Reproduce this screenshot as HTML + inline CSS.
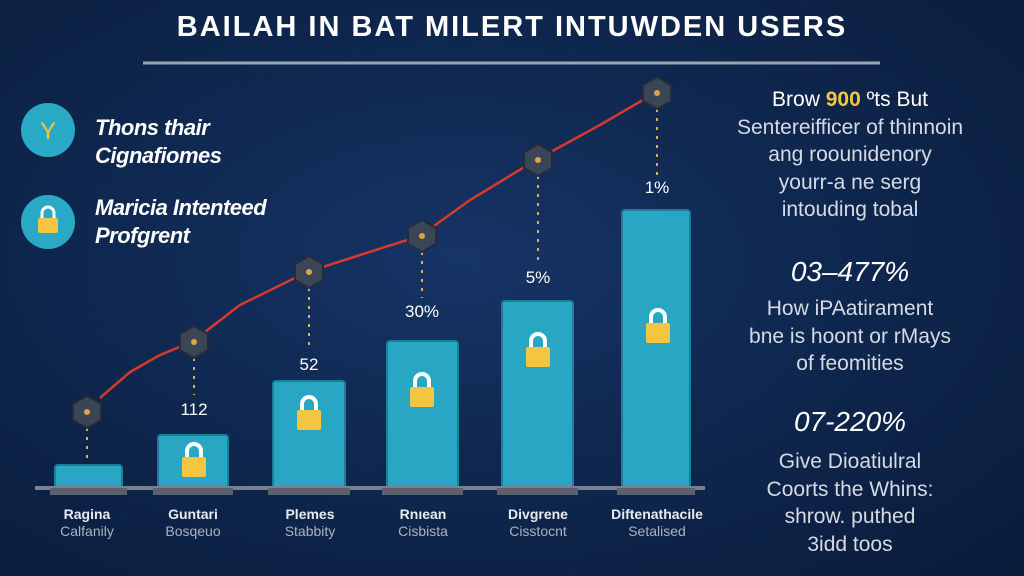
<!DOCTYPE html>
<html><head><meta charset="utf-8"><style>
html,body{margin:0;padding:0;}
body{width:1024px;height:576px;overflow:hidden;position:relative;font-family:"Liberation Sans",sans-serif;
background:radial-gradient(ellipse at 45% 45%,#163466 0%,#0f2850 45%,#0a1b3a 100%);}
.t{position:absolute;white-space:nowrap;}
.title{left:0;width:1024px;text-align:center;top:11px;font-size:29px;font-weight:bold;color:#fff;letter-spacing:2px;}
.leg{left:95px;font-size:22px;font-weight:bold;font-style:italic;color:#fff;line-height:28px;letter-spacing:-0.5px;}
.r{left:690px;width:320px;text-align:center;color:#d5dbe4;font-size:21px;line-height:27.5px;}
.big{left:690px;width:320px;text-align:center;color:#fff;font-size:28px;font-style:italic;}
.c1{font-size:14px;font-weight:bold;color:#e8ecf2;text-align:center;width:120px;}
.c2{font-size:14px;color:#aab3c2;text-align:center;width:120px;}
.v{font-size:17px;color:#fff;text-align:center;width:60px;}
</style></head><body>
<div class="t title">BAILAH IN BAT MILERT INTUWDEN USERS</div>
<svg width="1024" height="576" style="position:absolute;left:0;top:0">
<line x1="143" y1="63" x2="880" y2="63" stroke="#9aa3b2" stroke-width="3"/>
<circle cx="48" cy="130" r="27" fill="#2aa9c6"/>
<text x="48" y="139" fill="#f2c640" font-size="24" text-anchor="middle" font-family="Liberation Sans">Y</text>
<circle cx="48" cy="222" r="27" fill="#2aa9c6"/>
<rect x="38" y="218" width="20" height="15" rx="2" fill="#f2c640"/>
<path d="M42 218v-5a6 6 0 0 1 12 0v5" stroke="#fff" stroke-width="3" fill="none"/>
<g fill="#29a6c4" stroke="#1b7f9a" stroke-width="2">
<rect x="55" y="465" width="67" height="23" rx="3"/>
<rect x="158" y="435" width="70" height="53" rx="3"/>
<rect x="273" y="381" width="72" height="107" rx="3"/>
<rect x="387" y="341" width="71" height="147" rx="3"/>
<rect x="502" y="301" width="71" height="187" rx="3"/>
<rect x="622" y="210" width="68" height="278" rx="3"/>
</g>
<line x1="35" y1="488" x2="705" y2="488" stroke="#7a8090" stroke-width="4"/>
<g fill="#5b606c">
<rect x="50" y="488" width="77" height="7"/><rect x="153" y="488" width="80" height="7"/>
<rect x="268" y="488" width="82" height="7"/><rect x="382" y="488" width="81" height="7"/>
<rect x="497" y="488" width="81" height="7"/><rect x="617" y="488" width="78" height="7"/>
</g>
<g>
<g transform="translate(194,467)"><rect x="-12" y="-10" width="24" height="20" rx="2" fill="#f2c640"/><path d="M-7 -10v-6a7 7 0 0 1 14 0v6" stroke="#fff" stroke-width="4" fill="none"/></g>
<g transform="translate(309,420)"><rect x="-12" y="-10" width="24" height="20" rx="2" fill="#f2c640"/><path d="M-7 -10v-6a7 7 0 0 1 14 0v6" stroke="#fff" stroke-width="4" fill="none"/></g>
<g transform="translate(422,397)"><rect x="-12" y="-10" width="24" height="20" rx="2" fill="#f2c640"/><path d="M-7 -10v-6a7 7 0 0 1 14 0v6" stroke="#fff" stroke-width="4" fill="none"/></g>
<g transform="translate(538,357)"><rect x="-12" y="-10" width="24" height="20" rx="2" fill="#f2c640"/><path d="M-7 -10v-6a7 7 0 0 1 14 0v6" stroke="#fff" stroke-width="4" fill="none"/></g>
<g transform="translate(658,333)"><rect x="-12" y="-10" width="24" height="20" rx="2" fill="#f2c640"/><path d="M-7 -10v-6a7 7 0 0 1 14 0v6" stroke="#fff" stroke-width="4" fill="none"/></g>
</g>
<g stroke="#d7b257" stroke-width="2" stroke-dasharray="3,6">
<line x1="87" y1="428" x2="87" y2="463"/><line x1="194" y1="358" x2="194" y2="395"/>
<line x1="309" y1="288" x2="309" y2="350"/><line x1="422" y1="252" x2="422" y2="298"/>
<line x1="538" y1="176" x2="538" y2="262"/><line x1="657" y1="109" x2="657" y2="175"/>
</g>
<polyline points="100,398 130,372 160,355 192,342 240,305 307,272 360,255 420,236 470,200 536,160 600,125 655,93" fill="none" stroke="#d63a2a" stroke-width="2.5"/>
<g fill="#3a4656" stroke="#222c3a" stroke-width="2">
<polygon points="87,396 101,404 101,420 87,428 73,420 73,404"/>
<polygon points="194,326 208,334 208,350 194,358 180,350 180,334"/>
<polygon points="309,256 323,264 323,280 309,288 295,280 295,264"/>
<polygon points="422,220 436,228 436,244 422,252 408,244 408,228"/>
<polygon points="538,144 552,152 552,168 538,176 524,168 524,152"/>
<polygon points="657,77 671,85 671,101 657,109 643,101 643,85"/>
</g>
<g fill="#e2a24a"><circle cx="87" cy="412" r="3"/><circle cx="194" cy="342" r="3"/><circle cx="309" cy="272" r="3"/><circle cx="422" cy="236" r="3"/><circle cx="538" cy="160" r="3"/><circle cx="657" cy="93" r="3"/></g>
</svg>
<div class="t leg" style="top:114px">Thons thair<br>Cignafiomes</div>
<div class="t leg" style="top:194px">Maricia Intenteed<br>Profgrent</div>
<div class="t v" style="left:164px;top:400px">112</div>
<div class="t v" style="left:279px;top:355px">52</div>
<div class="t v" style="left:392px;top:302px">30%</div>
<div class="t v" style="left:508px;top:268px">5%</div>
<div class="t v" style="left:627px;top:178px">1%</div>
<div class="t c1" style="left:27px;top:506px">Ragina</div><div class="t c2" style="left:27px;top:523px">Calfanily</div>
<div class="t c1" style="left:133px;top:506px">Guntari</div><div class="t c2" style="left:133px;top:523px">Bosqeuo</div>
<div class="t c1" style="left:250px;top:506px">Plemes</div><div class="t c2" style="left:250px;top:523px">Stabbity</div>
<div class="t c1" style="left:363px;top:506px">Rnıean</div><div class="t c2" style="left:363px;top:523px">Cisbista</div>
<div class="t c1" style="left:478px;top:506px">Divgrene</div><div class="t c2" style="left:478px;top:523px">Cisstocnt</div>
<div class="t c1" style="left:597px;top:506px">Diftenathacile</div><div class="t c2" style="left:597px;top:523px">Setalised</div>
<div class="t r" style="top:86px"><span style="color:#fff">Brow <b style="color:#f2c640">900</b> ºts But</span><br>Sentereifficer of thinnoin<br>ang roounidenory<br>yourr-a ne serg<br>intouding tobal</div>
<div class="t big" style="top:256px">03–477%</div>
<div class="t r" style="top:295px">How iPAatirament<br>bne is hoont or rMays<br>of feomities</div>
<div class="t big" style="top:406px">07-220%</div>
<div class="t r" style="top:448px">Give Dioatiulral<br>Coorts the Whins:<br>shrow. puthed<br>3idd toos</div>
</body></html>
